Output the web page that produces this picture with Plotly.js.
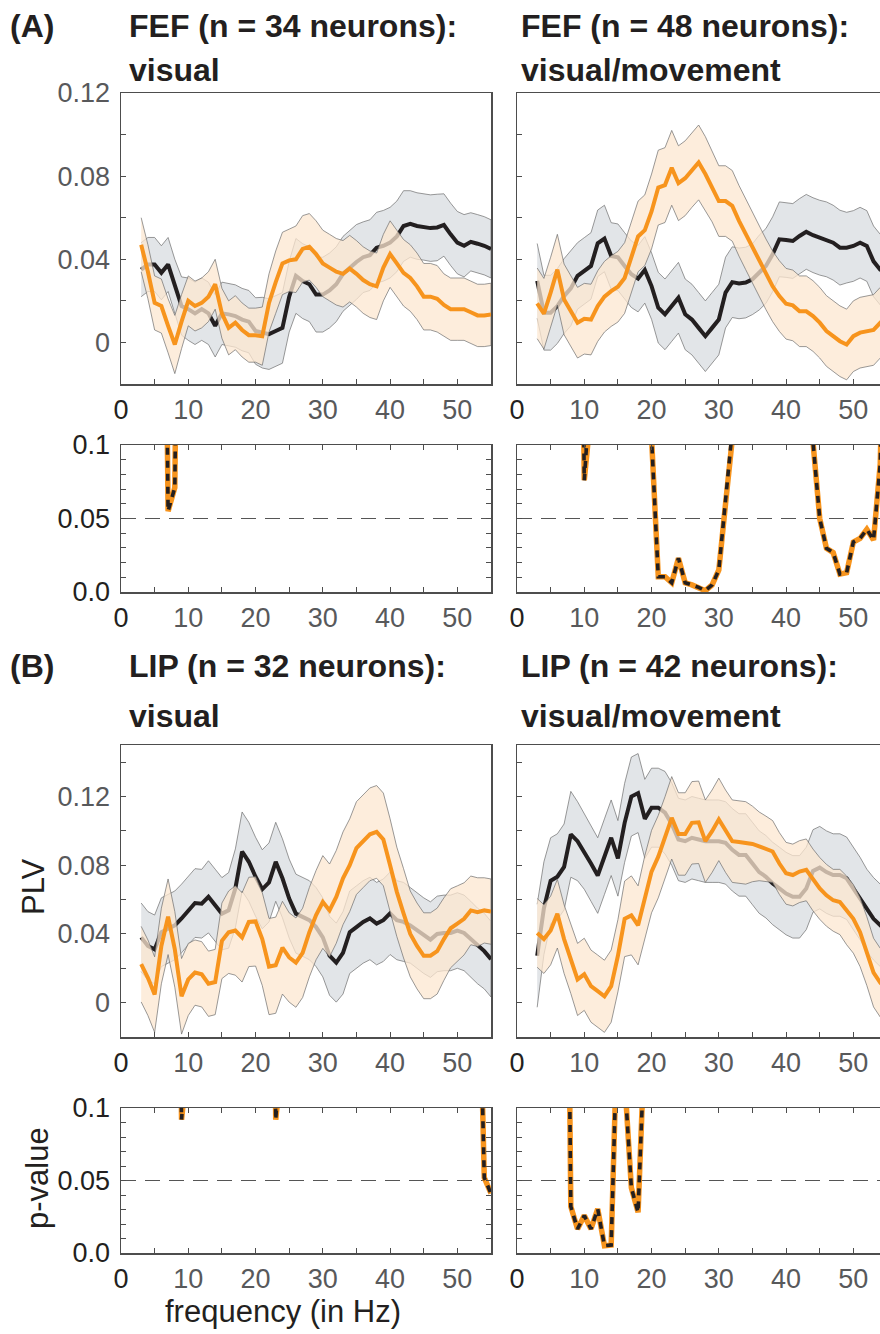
<!DOCTYPE html>
<html><head><meta charset="utf-8">
<script src="https://cdn.plot.ly/plotly-3.0.1.min.js"></script>
<style>html,body{margin:0;padding:0;overflow:hidden;background:#fff}#chart{width:900px;height:1334px}</style>
</head><body><div id="chart"></div>
<script>
// ---------- DATA ----------
const freq = [3,4,5,6,7,8,9,10,11,12,13,14,15,16,17,18,19,20,21,22,23,24,25,26,27,28,29,30,31,32,33,34,35,36,37,38,39,40,41,42,43,44,45,46,47,48,49,50,51,52,53,54,55];

// (A) FEF visual
const fefVisBlack = [0.035,0.0375,0.0375,0.0335,0.0375,0.027,0.0175,0.016,0.014,0.016,
 0.014,0.008,0.014,0.0135,0.0127,0.011,0.010,0.0055,0.0047,0.004,
 0.0055,0.007,0.022,0.032,0.0295,0.028,0.023,0.023,0.025,0.028,
 0.033,0.036,0.0387,0.041,0.042,0.0456,0.0465,0.048,0.051,0.056,
 0.057,0.056,0.0556,0.055,0.0553,0.0565,0.052,0.048,0.0465,0.0484,
 0.0475,0.0465,0.045];
const fefVisBlackSem = [0.013,0.013,0.013,0.013,0.013,0.013,0.014,0.015,0.015,0.015,
 0.015,0.015,0.015,0.015,0.015,0.015,0.015,0.016,0.017,0.017,
 0.017,0.017,0.017,0.018,0.018,0.018,0.018,0.018,0.018,0.018,
 0.018,0.018,0.018,0.017,0.017,0.017,0.017,0.017,0.017,0.017,
 0.016,0.016,0.016,0.016,0.016,0.015,0.015,0.015,0.015,0.014,
 0.014,0.014,0.014];
const fefVisOrange = [0.047,0.034,0.019,0.0175,0.008,-0.001,0.010,0.020,0.0175,0.019,
 0.022,0.028,0.014,0.007,0.0095,0.006,0.0035,0.0035,0.003,0.019,
 0.029,0.038,0.0395,0.040,0.045,0.046,0.0425,0.038,0.036,0.034,
 0.033,0.0355,0.033,0.030,0.028,0.027,0.036,0.0425,0.038,0.0335,
 0.031,0.027,0.022,0.022,0.021,0.018,0.016,0.016,0.016,0.0145,
 0.013,0.013,0.0135];
const fefVisOrangeSem = [0.013,0.013,0.013,0.013,0.013,0.014,0.013,0.012,0.012,0.012,
 0.012,0.012,0.012,0.013,0.013,0.013,0.013,0.013,0.014,0.014,
 0.015,0.015,0.015,0.016,0.016,0.016,0.016,0.016,0.016,0.016,
 0.016,0.016,0.016,0.016,0.016,0.016,0.016,0.016,0.016,0.016,
 0.016,0.016,0.016,0.016,0.016,0.015,0.015,0.015,0.015,0.015,
 0.015,0.015,0.015];
const fefVisP = [0.5,0.5,0.5,0.5,0.055,0.071,0.5,0.5,0.5,0.5,
 0.5,0.5,0.5,0.5,0.5,0.5,0.5,0.5,0.5,0.5,
 0.5,0.5,0.5,0.5,0.5,0.5,0.5,0.5,0.5,0.5,
 0.5,0.5,0.5,0.5,0.5,0.5,0.5,0.5,0.5,0.5,
 0.5,0.5,0.5,0.5,0.5,0.5,0.5,0.5,0.5,0.5,
 0.5,0.5,0.5];

// (A) FEF visual/movement
const fefVmBlack = [0.0296,0.0143,0.0143,0.0175,0.0223,0.026,0.032,0.0344,0.0368,0.0477,
 0.050,0.0416,0.041,0.0368,0.0328,0.0307,0.0349,0.0271,0.0167,0.0135,
 0.0175,0.0215,0.0135,0.011,0.007,0.003,0.007,0.011,0.024,0.029,
 0.0284,0.0288,0.0304,0.0336,0.0368,0.0424,0.0496,0.0493,0.0488,0.0512,
 0.0532,0.0516,0.0504,0.0496,0.048,0.0456,0.0456,0.0464,0.048,0.0464,
 0.039,0.035,0.033];
const fefVmBlackSem = [0.018,0.018,0.018,0.018,0.018,0.018,0.016,0.016,0.016,0.016,
 0.016,0.016,0.016,0.016,0.016,0.016,0.016,0.016,0.017,0.017,
 0.017,0.017,0.017,0.017,0.017,0.017,0.017,0.017,0.017,0.017,
 0.017,0.017,0.017,0.018,0.018,0.018,0.018,0.018,0.018,0.018,
 0.018,0.018,0.018,0.018,0.018,0.018,0.017,0.017,0.017,0.017,
 0.017,0.017,0.017];
const fefVmOrange = [0.0188,0.0138,0.024,0.035,0.0207,0.015,0.0095,0.0114,0.011,0.0175,
 0.022,0.0247,0.0268,0.031,0.0415,0.051,0.054,0.063,0.0745,0.0757,
 0.084,0.0766,0.079,0.083,0.0866,0.081,0.075,0.068,0.068,0.0657,
 0.0585,0.052,0.0456,0.039,0.0328,0.027,0.0223,0.0186,0.0178,0.015,
 0.015,0.0127,0.0095,0.0055,0.003,0.0006,-0.001,0.003,0.0047,0.0055,
 0.006,0.0095,0.012];
const fefVmOrangeSem = [0.017,0.017,0.017,0.017,0.017,0.017,0.017,0.017,0.017,0.017,
 0.017,0.017,0.017,0.017,0.017,0.017,0.017,0.018,0.018,0.018,
 0.018,0.018,0.018,0.018,0.018,0.018,0.017,0.017,0.017,0.017,
 0.017,0.017,0.017,0.017,0.017,0.017,0.017,0.017,0.017,0.017,
 0.017,0.017,0.017,0.017,0.017,0.017,0.017,0.017,0.017,0.017,
 0.017,0.017,0.017];
const fefVmP = [0.5,0.5,0.5,0.5,0.5,0.5,0.5,0.076,0.5,0.5,
 0.5,0.5,0.5,0.5,0.5,0.5,0.5,0.105,0.0104,0.0104,
 0.0063,0.023,0.0063,0.0048,0.0032,0.0009,0.0048,0.015,0.06,0.11,
 0.5,0.5,0.5,0.5,0.5,0.5,0.5,0.5,0.5,0.5,
 0.5,0.102,0.050,0.0297,0.0268,0.0122,0.0132,0.034,0.0365,0.0426,
 0.0354,0.0875,0.3];

// (B) LIP visual
const lipVisBlack = [0.038,0.033,0.031,0.041,0.043,0.045,0.049,0.0537,0.058,0.0576,
 0.0616,0.0567,0.0518,0.0537,0.0665,0.088,0.082,0.0733,0.066,0.070,
 0.082,0.0724,0.0606,0.0518,0.050,0.048,0.044,0.038,0.0273,0.0233,
 0.029,0.041,0.044,0.047,0.049,0.046,0.048,0.052,0.048,0.047,
 0.045,0.042,0.039,0.0367,0.040,0.0406,0.0406,0.042,0.0406,0.037,
 0.033,0.030,0.0253];
const lipVisBlackSem = [0.02,0.02,0.02,0.02,0.02,0.02,0.02,0.02,0.02,0.02,
 0.021,0.021,0.021,0.022,0.023,0.023,0.023,0.023,0.023,0.023,
 0.023,0.023,0.023,0.023,0.023,0.023,0.023,0.023,0.023,0.023,
 0.024,0.024,0.024,0.024,0.024,0.024,0.024,0.024,0.023,0.023,
 0.022,0.022,0.022,0.022,0.022,0.022,0.022,0.022,0.022,0.022,
 0.022,0.022,0.022];
const lipVisOrange = [0.0224,0.0145,0.0047,0.033,0.050,0.031,0.0037,0.0135,0.0175,0.0165,
 0.011,0.012,0.036,0.041,0.042,0.038,0.047,0.0473,0.037,0.021,
 0.0218,0.032,0.0263,0.0233,0.029,0.041,0.051,0.0586,0.0537,0.0616,
 0.0724,0.080,0.090,0.094,0.098,0.0994,0.095,0.080,0.0645,0.052,
 0.040,0.033,0.0273,0.0273,0.030,0.037,0.0433,0.046,0.0488,0.0537,
 0.0527,0.0537,0.053];
const lipVisOrangeSem = [0.022,0.022,0.022,0.022,0.022,0.022,0.022,0.021,0.019,0.019,
 0.019,0.019,0.022,0.024,0.026,0.026,0.026,0.026,0.027,0.028,
 0.028,0.027,0.026,0.026,0.026,0.026,0.026,0.027,0.027,0.027,
 0.027,0.027,0.027,0.027,0.027,0.027,0.027,0.027,0.026,0.026,
 0.025,0.025,0.025,0.025,0.025,0.024,0.023,0.022,0.021,0.020,
 0.020,0.019,0.019];
const lipVisP = [0.5,0.5,0.5,0.5,0.5,0.5,0.092,0.5,0.5,0.5,
 0.5,0.5,0.5,0.5,0.5,0.5,0.5,0.5,0.5,0.5,
 0.092,0.5,0.5,0.5,0.5,0.5,0.5,0.5,0.5,0.5,
 0.5,0.5,0.5,0.5,0.5,0.5,0.5,0.5,0.5,0.5,
 0.5,0.5,0.5,0.5,0.5,0.5,0.5,0.5,0.5,0.5,
 0.25,0.052,0.041];

// (B) LIP visual/movement
const lipVmBlack = [0.0273,0.055,0.071,0.0733,0.079,0.098,0.094,0.088,0.081,0.074,
 0.085,0.096,0.084,0.1047,0.120,0.122,0.107,0.1135,0.1135,0.1106,
 0.104,0.095,0.094,0.096,0.095,0.094,0.094,0.094,0.093,0.089,
 0.086,0.086,0.081,0.076,0.0733,0.0694,0.0665,0.0635,0.0616,0.0616,
 0.0665,0.0767,0.0786,0.076,0.0743,0.0743,0.0724,0.0665,0.0606,0.0537,
 0.0488,0.045,0.042];
const lipVmBlackSem = [0.03,0.027,0.025,0.025,0.025,0.025,0.023,0.022,0.022,0.022,
 0.022,0.022,0.022,0.023,0.023,0.023,0.023,0.023,0.023,0.024,
 0.024,0.024,0.024,0.024,0.024,0.024,0.024,0.024,0.024,0.024,
 0.024,0.024,0.024,0.024,0.024,0.024,0.024,0.024,0.024,0.024,
 0.024,0.024,0.024,0.024,0.024,0.024,0.024,0.024,0.024,0.024,
 0.024,0.024,0.024];
const lipVmOrange = [0.0406,0.037,0.042,0.0518,0.037,0.0253,0.0135,0.0165,0.0096,0.0067,
 0.0037,0.0096,0.0273,0.0488,0.0508,0.045,0.0616,0.0763,0.085,0.0959,
 0.1076,0.0982,0.0982,0.1047,0.105,0.094,0.0998,0.1067,0.0998,0.094,
 0.0935,0.093,0.0924,0.091,0.0896,0.088,0.081,0.0753,0.0743,0.0763,
 0.0773,0.0714,0.0665,0.0625,0.0596,0.0586,0.0537,0.0488,0.041,0.030,
 0.0175,0.0116,0.008];
const lipVmOrangeSem = [0.02,0.02,0.02,0.02,0.02,0.02,0.021,0.021,0.021,0.021,
 0.021,0.021,0.021,0.022,0.023,0.023,0.024,0.024,0.024,0.024,
 0.024,0.024,0.024,0.024,0.024,0.024,0.024,0.024,0.024,0.024,
 0.024,0.024,0.022,0.02,0.019,0.018,0.018,0.018,0.018,0.018,
 0.018,0.018,0.018,0.018,0.018,0.019,0.02,0.02,0.02,0.02,
 0.02,0.02,0.02];
const lipVmP = [0.5,0.5,0.5,0.5,0.5,0.032,0.0166,0.0258,0.0166,0.0304,
 0.005,0.0055,0.17,0.12,0.045,0.028,0.15,0.5,0.5,0.5,
 0.5,0.5,0.5,0.5,0.5,0.5,0.5,0.5,0.5,0.5,
 0.5,0.5,0.5,0.5,0.5,0.5,0.5,0.5,0.5,0.5,
 0.5,0.5,0.5,0.5,0.5,0.5,0.5,0.5,0.5,0.5,
 0.5,0.5,0.5];

const xTickVals = [0,5,10,15,20,25,30,35,40,45,50,55];
const xTickText = ['<span style="color:#231f20">0</span>','','10','','20','','30','','40','','50',''];
const yTickValsA = [0,0.02,0.04,0.06,0.08,0.10,0.12];
const yTickTextA = ['0','','0.04','','0.08','','0.12'];
const yTickValsB = [0,0.02,0.04,0.06,0.08,0.10,0.12,0.14];
const yTickTextB = ['0','','0.04','','0.08','','0.12',''];
const pTickVals = [0,0.01,0.02,0.03,0.04,0.05,0.06,0.07,0.08,0.09,0.10];
const pTickText = ['0.0','','','','','0.05','','','','','0.1'];
const pThreshold = 0.05;

// ---------- STYLE / LAYOUT ----------
const W = 900, H = 1334;
const FONT = 'Liberation Sans, Arial, sans-serif';
const BLACK = '#231f20', ORANGE = '#f7941d', GRAYTXT = '#58595b';
const fx = v => v / W, fy = v => 1 - v / H;

function band(x, m, s, fill, ax) {
  const up = m.map((v, i) => v + s[i]);
  const lo = m.map((v, i) => v - s[i]);
  return {x: x.concat(x.slice().reverse()), y: up.concat(lo.slice().reverse()),
    type: 'scatter', mode: 'lines', fill: 'toself', fillcolor: fill,
    line: {color: 'rgba(105,105,105,0.85)', width: 0.8}, xaxis: 'x' + ax, yaxis: 'y' + ax, hoverinfo: 'skip'};
}
function line(x, y, color, ax) {
  return {x, y, type: 'scatter', mode: 'lines', line: {color, width: 4}, xaxis: 'x' + ax, yaxis: 'y' + ax, hoverinfo: 'skip'};
}
function mainPanel(blk, blkS, org, orgS, ax) {
  return [band(freq, blk, blkS, '#e2e5e8', ax), line(freq, blk, BLACK, ax),
          band(freq, org, orgS, 'rgba(252,231,208,0.75)', ax), line(freq, org, ORANGE, ax)];
}
function pPanel(p, ax) {
  return [
    {x: freq, y: p, type: 'scatter', mode: 'lines', line: {color: ORANGE, width: 5.5}, xaxis: 'x' + ax, yaxis: 'y' + ax, hoverinfo: 'skip'},
    {x: freq, y: p, type: 'scatter', mode: 'lines', line: {color: BLACK, width: 3.6, dash: '7px,6px'}, xaxis: 'x' + ax, yaxis: 'y' + ax, hoverinfo: 'skip'}
  ];
}

const data = [].concat(
  mainPanel(fefVisBlack, fefVisBlackSem, fefVisOrange, fefVisOrangeSem, ''),
  mainPanel(fefVmBlack, fefVmBlackSem, fefVmOrange, fefVmOrangeSem, '2'),
  pPanel(fefVisP, '3'), pPanel(fefVmP, '4'),
  mainPanel(lipVisBlack, lipVisBlackSem, lipVisOrange, lipVisOrangeSem, '5'),
  mainPanel(lipVmBlack, lipVmBlackSem, lipVmOrange, lipVmOrangeSem, '6'),
  pPanel(lipVisP, '7'), pPanel(lipVmP, '8')
);

const frame = {showline: true, linecolor: '#4d4d4d', linewidth: 1.5, showgrid: false, zeroline: false,
  ticks: 'inside', ticklen: 5, tickwidth: 1, tickcolor: '#4d4d4d', fixedrange: true};

function xAx(l, r, anchor, mirror) {
  return Object.assign({}, frame, {domain: [fx(l), fx(r)], anchor, range: [0, 55], mirror,
    tickmode: 'array', tickvals: xTickVals, ticktext: xTickText, ticklabelstandoff: 1,
    tickfont: {family: FONT, size: 27, color: GRAYTXT}});
}
function yAx(t, b, anchor, range, vals, text, show, color, mirror) {
  return Object.assign({}, frame, {domain: [fy(b), fy(t)], anchor, range, mirror,
    tickmode: 'array', tickvals: vals, ticktext: text, showticklabels: show, ticklabelstandoff: 4,
    tickfont: {family: FONT, size: 27, color}});
}

const L = [121, 491], R = [517, 887];
const layout = {
  width: W, height: H, margin: {l: 0, r: 0, t: 0, b: 0}, showlegend: false,
  paper_bgcolor: '#fff', plot_bgcolor: 'rgba(0,0,0,0)',
  xaxis:  xAx(L[0], L[1], 'y', true),
  yaxis:  yAx(93, 384, 'x', [-0.02, 0.12], yTickValsA, yTickTextA, true, GRAYTXT, true),
  xaxis2: xAx(R[0], R[1], 'y2', true),
  yaxis2: yAx(93, 384, 'x2', [-0.02, 0.12], yTickValsA, yTickTextA, false, GRAYTXT, true),
  xaxis3: xAx(L[0], L[1], 'y3', 'allticks'),
  yaxis3: yAx(445, 592, 'x3', [0, 0.1], pTickVals, pTickText, true, BLACK, 'allticks'),
  xaxis4: xAx(R[0], R[1], 'y4', 'allticks'),
  yaxis4: yAx(445, 592, 'x4', [0, 0.1], pTickVals, pTickText, false, BLACK, 'allticks'),
  xaxis5: xAx(L[0], L[1], 'y5', true),
  yaxis5: yAx(745, 1037, 'x5', [-0.02, 0.15], yTickValsB, yTickTextB, true, GRAYTXT, true),
  xaxis6: xAx(R[0], R[1], 'y6', true),
  yaxis6: yAx(745, 1037, 'x6', [-0.02, 0.15], yTickValsB, yTickTextB, false, GRAYTXT, true),
  xaxis7: xAx(L[0], L[1], 'y7', 'allticks'),
  yaxis7: yAx(1108, 1253, 'x7', [0, 0.1], pTickVals, pTickText, true, BLACK, 'allticks'),
  xaxis8: xAx(R[0], R[1], 'y8', 'allticks'),
  yaxis8: yAx(1108, 1253, 'x8', [0, 0.1], pTickVals, pTickText, false, BLACK, 'allticks'),
  shapes: ['3', '4', '7', '8'].map(a => ({type: 'line', xref: 'x' + a, yref: 'y' + a, x0: 0, x1: 55,
    y0: pThreshold, y1: pThreshold, layer: 'below', line: {color: '#555', width: 1.2, dash: '15px,9px'}})),
  annotations: []
};

function txt(text, x, y, size, opts) {
  layout.annotations.push(Object.assign({text, x: fx(x), y: fy(y), xref: 'paper', yref: 'paper',
    xanchor: 'left', yanchor: 'middle', showarrow: false,
    font: {family: FONT, size, color: BLACK}}, opts || {}));
}
const TS = 32;
txt('<b>(A)</b>', 8, 26, TS);
txt('<b>FEF (n = 34 neurons):</b>', 127, 26, TS);
txt('<b>visual</b>', 127, 70, TS);
txt('<b>FEF (n = 48 neurons):</b>', 519, 26, TS);
txt('<b>visual/movement</b>', 519, 70, TS);
txt('<b>(B)</b>', 8, 666, TS);
txt('<b>LIP (n = 32 neurons):</b>', 127, 666, TS);
txt('<b>visual</b>', 127, 716, TS);
txt('<b>LIP (n = 42 neurons):</b>', 519, 666, TS);
txt('<b>visual/movement</b>', 519, 716, TS);
txt('PLV', 33, 887, 31, {xanchor: 'center', textangle: -90});
txt('p-value', 37, 1178, 31, {xanchor: 'center', textangle: -90});
txt('frequency (in Hz)', 283, 1311, 31, {xanchor: 'center'});

Plotly.newPlot('chart', data, layout, {staticPlot: true, displayModeBar: false});
</script>
</body></html>
